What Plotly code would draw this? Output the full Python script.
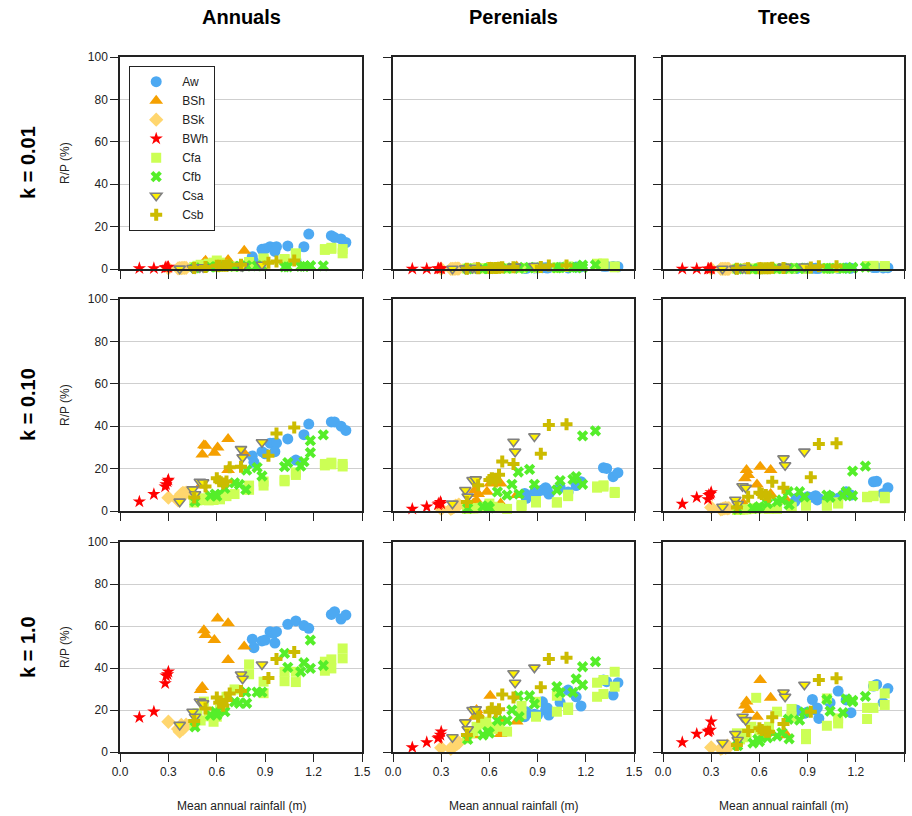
import plotly.graph_objects as go

# ---------------- data ----------------
CATEGORIES = ["Aw", "BSh", "BSk", "BWh", "Cfa", "Cfb", "Csa", "Csb"]
PLANT_TYPES = ["Annuals", "Perenials", "Trees"]
K_LABELS = ["k = 0.01", "k = 0.10", "k = 1.0"]
X_TICKS = [0.0, 0.3, 0.6, 0.9, 1.2, 1.5]
X_TICK_LABELS = ["0.0", "0.3", "0.6", "0.9", "1.2", "1.5"]
Y_TICKS = [0, 20, 40, 60, 80, 100]
Y_TICK_LABELS = ["0", "20", "40", "60", "80", "100"]

# mean annual rainfall (m) per site, by climate class
AW_X = [0.82, 0.83, 0.88, 0.90, 0.93, 0.95, 0.97, 0.96, 1.04, 1.09, 1.14, 1.17, 1.31, 1.33, 1.37, 1.40]
BSH_X = [0.50, 0.51, 0.52, 0.53, 0.585, 0.605, 0.67, 0.67, 0.77]
BSK_X = [0.30, 0.36, 0.37, 0.38, 0.39, 0.40, 0.41]
BWH_X = [0.12, 0.21, 0.28, 0.285, 0.295, 0.30]
CFA_X = [0.46, 0.48, 0.50, 0.52, 0.55, 0.58, 0.60, 0.62, 0.66, 0.71, 0.80, 0.80,
         0.89, 0.89, 1.02, 1.02, 1.09, 1.09, 1.27, 1.27, 1.31, 1.31, 1.38, 1.38]
CFB_X = [0.465, 0.56, 0.59, 0.60, 0.65, 0.71, 0.74, 0.78, 0.785, 0.85, 0.88, 1.02,
         1.04, 1.12, 1.14, 1.18, 1.18, 1.26]
CSA_X = [0.37, 0.45, 0.465, 0.495, 0.515, 0.75, 0.76, 0.88]
CSB_X = [0.46, 0.53, 0.60, 0.615, 0.64, 0.66, 0.68, 0.75, 0.92, 0.97, 1.08]

# R/P (%) -- k = 0.01
AW_ANN_K001 = [5.8, 3.5, 9.3, 9.5, 10.5, 10, 10.5, 8.3, 10.9, 4.4, 10.5, 16.5, 15.7, 14.8, 14.2, 12.5]
AW_PER_K001 = [0.3, 0.3, 0.5, 0.5, 0.6, 0.6, 0.6, 0.5, 0.8, 0.5, 0.9, 1.0, 1.3, 1.3, 1.2, 1.1]
AW_TRE_K001 = [0.2, 0.2, 0.3, 0.3, 0.3, 0.4, 0.3, 0.3, 0.4, 0.3, 0.5, 0.4, 0.7, 0.7, 0.5, 0.6]
BSH_ANN_K001 = [1.5, 2, 3, 3.9, 2.5, 3, 4.2, 3, 8.6]
BSH_PER_K001 = [0.3, 0.5, 0.6, 0.6, 0.6, 0.7, 0.8, 0.5, 1.2]
BSH_TRE_K001 = [0.1, 0.4, 0.5, 0.5, 0.3, 0.6, 0.5, 0.2, 0.2]
BSK_ANN_K001 = [0.3, 0.3, 0.4, 0.4, 0.5, 0.5, 0.5]
BSK_PER_K001 = [0.1, 0.1, 0.1, 0.1, 0.2, 0.2, 0.2]
BSK_TRE_K001 = [0.1, 0.1, 0.1, 0.1, 0.1, 0.1, 0.1]
BWH_ANN_K001 = [0.3, 0.3, 0.6, 0.8, 0.8, 1.0]
BWH_PER_K001 = [0.1, 0.1, 0.2, 0.2, 0.2, 0.2]
BWH_TRE_K001 = [0.1, 0.1, 0.1, 0.1, 0.1, 0.2]
CFA_ANN_K001 = [1, 1.5, 2, 1.8, 2.5, 3, 4, 3, 2, 1.2, 3.3, 3, 5, 4.5, 4.7, 4.5, 7.4, 6.5, 9.4, 9, 10, 9.5, 9.4, 7.4]
CFA_PER_K001 = [0.2, 0.2, 0.3, 0.3, 0.3, 0.3, 0.4, 0.3, 0.3, 0.3, 0.5, 0.4, 0.6, 0.5, 0.7, 0.6, 1.2, 1.0, 2.5, 2.2, 2.6, 2.4, 1.2, 0.8]
CFA_TRE_K001 = [0.1, 0.1, 0.1, 0.1, 0.1, 0.2, 0.2, 0.2, 0.2, 0.2, 0.3, 0.2, 0.2, 0.2, 0.4, 0.3, 0.5, 0.4, 1.4, 1.3, 1.5, 1.4, 1.4, 1.2]
CFB_ANN_K001 = [0.5, 1, 1, 1, 1.2, 1.2, 1.2, 1.5, 1.5, 1.5, 1.5, 1.0, 1.0, 1.2, 1.2, 1.4, 1.5, 1.5]
CFB_PER_K001 = [0.1, 0.2, 0.2, 0.2, 0.4, 0.3, 0.5, 0.8, 0.3, 0.8, 0.5, 0.5, 0.7, 0.7, 0.8, 0.6, 1.8, 1.9]
CFB_TRE_K001 = [0.1, 0.1, 0.1, 0.1, 0.2, 0.2, 0.3, 0.4, 0.2, 0.4, 0.3, 0.3, 0.3, 0.3, 0.4, 0.3, 0.8, 0.9]
CSA_ANN_K001 = [0.2, 0.5, 0.4, 0.8, 0.8, 1.5, 1.3, 2]
CSA_PER_K001 = [0.1, 0.3, 0.2, 0.5, 0.5, 1.2, 1.0, 1.4]
CSA_TRE_K001 = [0.1, 0.2, 0.1, 0.4, 0.4, 1.0, 0.9, 1.2]
CSB_ANN_K001 = [0.5, 1, 1.5, 1.5, 1.5, 1.5, 2, 2, 3, 3.5, 4]
CSB_PER_K001 = [0.1, 0.4, 0.5, 0.5, 0.5, 0.6, 0.8, 0.8, 1.0, 1.6, 1.6]
CSB_TRE_K001 = [0.1, 0.3, 0.4, 0.3, 0.3, 0.3, 0.6, 0.5, 0.7, 1.3, 1.3]

# R/P (%) -- k = 0.10
AW_ANN_K010 = [26, 23, 28, 27, 32, 32, 32, 28, 34, 24, 36, 41, 42, 42, 40, 38]
AW_PER_K010 = [8.3, 6, 8.8, 9, 9.9, 11, 8, 10, 11.2, 9, 12, 13.8, 20.4, 20.1, 16.2, 18.1]
AW_TRE_K010 = [4.4, 5.9, 6, 6.7, 6.5, 7.2, 5.9, 5.2, 7, 6, 9.1, 7.5, 13.8, 14, 8.3, 11]
BSH_ANN_K010 = [12, 26.7, 31, 30.8, 27.5, 30, 34, 19.3, 27.2]
BSH_PER_K010 = [3.5, 9.9, 5, 8, 9.1, 13, 13, 3.5, 7.5]
BSH_TRE_K010 = [3.6, 15.4, 19.3, 17, 12.5, 20.9, 19.3, 8, 5]
BSK_ANN_K010 = [6.3, 5, 7, 8, 8.5, 8.3, 8.6]
BSK_PER_K010 = [1, 1, 1.5, 2, 2.5, 2.5, 3]
BSK_TRE_K010 = [1.7, 0.8, 1, 1.2, 1.5, 1.2, 1.4]
BWH_ANN_K010 = [4.4, 7.9, 11.5, 12.6, 13.9, 14.7]
BWH_PER_K010 = [1, 2, 3, 3.5, 4.2, 3.5]
BWH_TRE_K010 = [3.3, 6.4, 5.5, 7.5, 8, 8.8]
CFA_ANN_K010 = [4, 5, 5.2, 6, 5, 5.2, 6, 5.5, 7, 8, 12, 10, 13.9, 12, 14.7, 14, 18.2, 17, 22.2, 21.5, 22.8, 22, 22.2, 21]
CFA_PER_K010 = [1, 1.3, 1.2, 1.3, 1.5, 2, 3.5, 2, 1.5, 1, 2.8, 2, 4.7, 4, 4.1, 4, 7.7, 7, 11.6, 11, 12.1, 11.5, 9, 8.5]
CFA_TRE_K010 = [0.5, 0.6, 0.7, 0.8, 1, 1.2, 1.5, 1.2, 1, 1, 2, 1.5, 2.8, 2.5, 2.8, 2.5, 4.1, 3.5, 6.7, 6.5, 7.2, 7, 6.7, 6]
CFB_ANN_K010 = [4.4, 7.2, 8, 7, 10.7, 13.3, 12.5, 10.1, 19.3, 20.5, 16.5, 20.9, 22.8, 21.2, 23.3, 27.5, 33.2, 35.9]
CFB_PER_K010 = [1.3, 2, 2.4, 1.5, 9, 7.5, 12.6, 18.4, 8, 19.6, 12.6, 9.9, 14.3, 14.9, 16.2, 12.6, 35.4, 37.8]
CFB_TRE_K010 = [0.8, 1.3, 1.5, 2, 3.5, 4.4, 5.2, 9.1, 3, 9.1, 6.7, 7.5, 6.5, 7.2, 9.1, 7.2, 18.8, 21.2]
CSA_ANN_K010 = [4.4, 10.2, 7.9, 13.8, 13.5, 29.2, 25.3, 32.4]
CSA_PER_K010 = [3.5, 9.9, 6.8, 14.6, 14.9, 32.7, 28, 35.2]
CSA_TRE_K010 = [2, 5.3, 3.3, 11.7, 11, 24.8, 21.6, 28]
CSB_ANN_K010 = [6.4, 11.5, 15.4, 14, 13, 13.9, 20.6, 20.9, 26.1, 36.6, 39.4]
CSB_PER_K010 = [4.2, 12.1, 14.6, 15.4, 13.9, 17.1, 23.3, 22.2, 27, 40.6, 40.9]
CSB_TRE_K010 = [1.7, 6.7, 8.6, 8, 7.5, 6.7, 13.8, 11, 15.9, 31.6, 31.9]

# R/P (%) -- k = 1.0
AW_ANN_K100 = [53.7, 49.7, 52.9, 53.3, 57.3, 56.5, 57.3, 51.9, 60.8, 62.4, 60.2, 58.9, 65.5, 66.8, 63.3, 65.2]
AW_PER_K100 = [16.8, 19.2, 18, 17.6, 23.9, 20, 17.6, 21, 23.6, 29.5, 26.3, 21.9, 34.3, 33.5, 27.1, 33]
AW_TRE_K100 = [19, 20, 18.4, 19, 25, 20, 16, 21, 23.5, 29, 24.8, 18.7, 31.4, 32.2, 23.5, 30.2]
BSH_ANN_K100 = [29.5, 31, 58, 55.7, 53.3, 63.6, 61.3, 43.8, 50.2]
BSH_PER_K100 = [8, 16.8, 20, 18, 14, 26.8, 15, 8.6, 14.5]
BSH_TRE_K100 = [8, 22.1, 24, 20, 16.8, 34.3, 25.8, 9, 8]
BSK_ANN_K100 = [14.4, 11, 9.7, 12.9, 11, 12, 13]
BSK_PER_K100 = [2, 1.5, 2.5, 3, 3.5, 4, 4.5]
BSK_TRE_K100 = [2.2, 1.5, 2, 2.5, 2, 3, 2.5]
BWH_ANN_K100 = [16.5, 19.2, 32.7, 36.3, 37, 38.2]
BWH_PER_K100 = [2.2, 4.6, 6.5, 7, 8.1, 9.7]
BWH_TRE_K100 = [4.6, 8.6, 9.7, 10, 10.5, 14.5]
CFA_ANN_K100 = [13, 18.4, 15, 24, 17, 14.4, 16.8, 20, 26.3, 29.8, 41.7, 37, 33.5, 28, 38.2, 33.7, 38.2, 33.3, 43, 38.7, 44.1, 39.8, 49.3, 44.6]
CFA_PER_K100 = [6.5, 8.9, 10, 12, 13.6, 14.4, 12, 11, 12, 9.7, 22, 18, 23.9, 16.8, 26.8, 19.2, 21.2, 20, 33, 26.3, 34.3, 27.6, 38.2, 31.1]
CFA_TRE_K100 = [8.9, 6, 7, 9, 12, 25.8, 10.5, 9, 12, 19.2, 20.5, 16.8, 6.1, 8.6, 25.5, 12.5, 13.6, 16, 15.7, 21, 31.4, 21, 27.9, 22.4]
CFB_ANN_K100 = [12, 17.6, 19.2, 17.6, 19.2, 23.9, 23.2, 28.5, 23.2, 28.5, 28.5, 47, 40.3, 38.2, 42.5, 39.8, 53.3, 41.2]
CFB_PER_K100 = [6, 8.1, 9.7, 9, 15, 15, 20, 26.7, 16.8, 26.8, 22.9, 31.1, 28.3, 28.4, 34.8, 31.9, 40.6, 43]
CFB_TRE_K100 = [3, 4.3, 6, 5, 6.8, 7.6, 9.2, 15.6, 6.3, 15.2, 19, 25, 19.5, 18.7, 25.3, 24.6, 24, 26.5]
CSA_ANN_K100 = [12.9, 19.2, 16.8, 24, 23.2, 36.9, 34.9, 41.7]
CSA_PER_K100 = [7, 14.1, 10.8, 20, 20.3, 37.5, 33, 40.2]
CSA_TRE_K100 = [4.4, 8.6, 5.7, 16.8, 15.2, 28.3, 26.3, 32]
CSB_ANN_K100 = [14.8, 20.7, 26, 23.5, 22, 24.8, 27.9, 29.1, 35.2, 44.3, 47.6]
CSB_PER_K100 = [8.1, 16.8, 19.2, 20.8, 19.2, 20.3, 27.4, 25.9, 30.8, 44.3, 44.9]
CSB_TRE_K100 = [3.3, 10, 11.3, 10.5, 9.7, 9.7, 16.5, 13.3, 19.2, 34.3, 35.1]

# ---------------- tables built from the lists ----------------
X_BY_CAT = {"Aw": AW_X, "BSh": BSH_X, "BSk": BSK_X, "BWh": BWH_X,
            "Cfa": CFA_X, "Cfb": CFB_X, "Csa": CSA_X, "Csb": CSB_X}
Y_BY_CAT = {
    "Aw": [[AW_ANN_K001, AW_PER_K001, AW_TRE_K001], [AW_ANN_K010, AW_PER_K010, AW_TRE_K010], [AW_ANN_K100, AW_PER_K100, AW_TRE_K100]],
    "BSh": [[BSH_ANN_K001, BSH_PER_K001, BSH_TRE_K001], [BSH_ANN_K010, BSH_PER_K010, BSH_TRE_K010], [BSH_ANN_K100, BSH_PER_K100, BSH_TRE_K100]],
    "BSk": [[BSK_ANN_K001, BSK_PER_K001, BSK_TRE_K001], [BSK_ANN_K010, BSK_PER_K010, BSK_TRE_K010], [BSK_ANN_K100, BSK_PER_K100, BSK_TRE_K100]],
    "BWh": [[BWH_ANN_K001, BWH_PER_K001, BWH_TRE_K001], [BWH_ANN_K010, BWH_PER_K010, BWH_TRE_K010], [BWH_ANN_K100, BWH_PER_K100, BWH_TRE_K100]],
    "Cfa": [[CFA_ANN_K001, CFA_PER_K001, CFA_TRE_K001], [CFA_ANN_K010, CFA_PER_K010, CFA_TRE_K010], [CFA_ANN_K100, CFA_PER_K100, CFA_TRE_K100]],
    "Cfb": [[CFB_ANN_K001, CFB_PER_K001, CFB_TRE_K001], [CFB_ANN_K010, CFB_PER_K010, CFB_TRE_K010], [CFB_ANN_K100, CFB_PER_K100, CFB_TRE_K100]],
    "Csa": [[CSA_ANN_K001, CSA_PER_K001, CSA_TRE_K001], [CSA_ANN_K010, CSA_PER_K010, CSA_TRE_K010], [CSA_ANN_K100, CSA_PER_K100, CSA_TRE_K100]],
    "Csb": [[CSB_ANN_K001, CSB_PER_K001, CSB_TRE_K001], [CSB_ANN_K010, CSB_PER_K010, CSB_TRE_K010], [CSB_ANN_K100, CSB_PER_K100, CSB_TRE_K100]],
}

STYLE = {
    "Aw": dict(symbol="circle", color="#4DA9F2", size=11, line=dict(width=0)),
    "BSh": dict(symbol="triangle-up", color="#F5A000", size=12, line=dict(width=0)),
    "BSk": dict(symbol="diamond", color="#FFD66E", size=11, line=dict(width=0)),
    "BWh": dict(symbol="star", color="#FF0000", size=10, line=dict(width=0)),
    "Cfa": dict(symbol="square", color="#CCFF55", size=10, line=dict(width=0)),
    "Cfb": dict(symbol="x", color="#55EE2A", size=10, line=dict(width=0)),
    "Csa": dict(symbol="triangle-down", color="#FFF200", size=10, line=dict(width=1.6, color="#808080")),
    "Csb": dict(symbol="cross", color="#CCBB00", size=10, line=dict(width=0)),
}

# ---------------- layout geometry ----------------
W, H = 912, 816
COL_PX = [(120, 362), (393, 634), (663, 904)]
ROW_PX = [(57, 269), (299, 511), (542, 752)]
FONT = "Liberation Sans, Arial, sans-serif"

fig = go.Figure()

for r in range(3):
    for c in range(3):
        idx = r * 3 + c + 1
        xs = "x" if idx == 1 else f"x{idx}"
        ys = "y" if idx == 1 else f"y{idx}"
        for cat in CATEGORIES:
            st = STYLE[cat]
            fig.add_trace(go.Scatter(
                x=X_BY_CAT[cat], y=Y_BY_CAT[cat][r][c], mode="markers", name=cat,
                legendgroup=cat, showlegend=(idx == 1), cliponaxis=False,
                marker=dict(symbol=st["symbol"], color=st["color"], size=st["size"], line=st["line"]),
                xaxis=xs, yaxis=ys, hoverinfo="x+y+name"))

        x0, x1 = COL_PX[c]
        y0, y1 = ROW_PX[r]
        xkey = "xaxis" if idx == 1 else f"xaxis{idx}"
        ykey = "yaxis" if idx == 1 else f"yaxis{idx}"
        fig.layout[xkey] = dict(
            domain=[x0 / W, x1 / W], anchor=ys, range=[0, 1.5], automargin=False,
            tickvals=X_TICKS, ticktext=X_TICK_LABELS, showticklabels=(r == 2),
            ticks="outside", ticklen=8, tickwidth=1, tickcolor="#222",
            showline=True, linecolor="#222", linewidth=1.5, mirror=True,
            showgrid=False, zeroline=False,
            tickfont=dict(family=FONT, size=12, color="#222"))
        fig.layout[ykey] = dict(
            domain=[1 - y1 / H, 1 - y0 / H], anchor=xs, range=[0, 100], automargin=False,
            tickvals=Y_TICKS, ticktext=Y_TICK_LABELS, showticklabels=(c == 0),
            ticks="outside", ticklen=8, tickwidth=1, tickcolor="#222",
            showline=True, linecolor="#222", linewidth=1.5, mirror=True,
            showgrid=True, gridcolor="#CFCFCF", gridwidth=1, zeroline=False,
            tickfont=dict(family=FONT, size=12, color="#222"))

annotations = []
for c, title in enumerate(PLANT_TYPES):
    x0, x1 = COL_PX[c]
    annotations.append(dict(text=f"<b>{title}</b>", x=(x0 + x1) / 2 / W, y=1 - 17 / H,
                            xref="paper", yref="paper", showarrow=False,
                            xanchor="center", yanchor="middle",
                            font=dict(family=FONT, size=20, color="#000")))
    annotations.append(dict(text="Mean annual rainfall (m)", x=(x0 + x1) / 2 / W, y=1 - 806 / H,
                            xref="paper", yref="paper", showarrow=False,
                            xanchor="center", yanchor="middle",
                            font=dict(family=FONT, size=12, color="#222")))
for r, lab in enumerate(K_LABELS):
    y0, y1 = ROW_PX[r]
    ymid = 1 - (y0 + y1) / 2 / H
    annotations.append(dict(text=f"<b>{lab}</b>", x=28 / W, y=ymid, xref="paper", yref="paper",
                            showarrow=False, textangle=-90, xanchor="center", yanchor="middle",
                            font=dict(family=FONT, size=20, color="#000")))
    annotations.append(dict(text="R/P (%)", x=65 / W, y=ymid, xref="paper", yref="paper",
                            showarrow=False, textangle=-90, xanchor="center", yanchor="middle",
                            font=dict(family=FONT, size=12, color="#222")))

fig.update_layout(
    template="none",
    width=W, height=H, margin=dict(l=0, r=0, t=0, b=0, pad=0, autoexpand=False),
    paper_bgcolor="white", plot_bgcolor="white",
    annotations=annotations,
    showlegend=True,
    legend=dict(x=129 / W, y=1 - 66 / H, xanchor="left", yanchor="top",
                bgcolor="white", bordercolor="#222", borderwidth=1.2,
                itemwidth=42, font=dict(family=FONT, size=12, color="#222"),
                tracegroupgap=0),
    font=dict(family=FONT),
)

fig.write_html("out.html", config={"responsive": False, "displayModeBar": False},
               post_script="document.body.style.margin='0';document.body.style.overflow='hidden';")
